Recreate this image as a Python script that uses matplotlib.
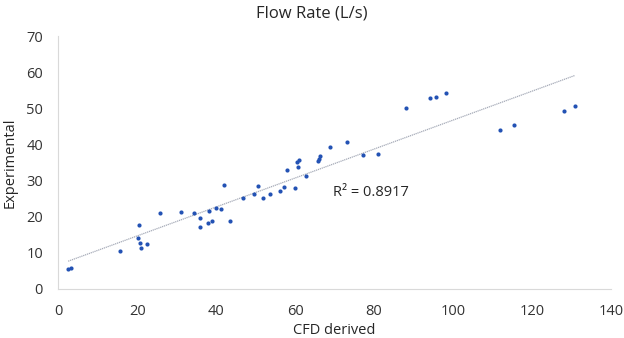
import numpy as np
import matplotlib
matplotlib.use("Agg")
import matplotlib.pyplot as plt

plt.rcParams['font.family'] = ['Open Sans', 'DejaVu Sans']

# CFD derived flow rate (L/s)
cfd = [2.5, 3.2, 15.6, 20.4, 20.3, 20.7, 20.9, 22.6, 25.7, 31.2,
       34.5, 35.8, 36.0, 38.2, 38.0, 38.9, 40.0, 41.1, 41.9, 43.6,
       46.8, 49.7, 50.5, 51.8, 53.6, 56.2, 57.3, 57.9, 60.0, 60.6,
       60.5, 61.0, 62.8, 65.9, 66.1, 66.4, 68.9, 73.2, 77.3, 81.0,
       88.0, 94.1, 95.7, 98.3, 112.0, 115.4, 128.2, 130.9]
# experimental flow rate (L/s)
exp = [5.5, 5.7, 10.5, 17.7, 14.1, 12.8, 11.4, 12.4, 21.0, 21.2,
       21.0, 19.8, 17.3, 21.7, 18.4, 18.9, 22.5, 22.3, 28.7, 18.8,
       25.2, 26.2, 28.4, 25.3, 26.3, 27.1, 28.2, 33.1, 28.0, 33.7,
       35.1, 35.6, 31.2, 35.4, 35.9, 36.9, 39.3, 40.8, 37.1, 37.5,
       50.2, 52.9, 53.2, 54.3, 44.1, 45.5, 49.4, 50.7]
r2_label = "R² = 0.8917"

x = np.array(cfd)
y = np.array(exp)
slope, inter = np.polyfit(x, y, 1)

fig = plt.figure(figsize=(6.24, 3.38), dpi=100)
ax = fig.add_axes([0.0934, 0.145, 0.8857, 0.7475])

xs = np.array([x.min(), x.max()])
ax.plot(xs, slope * xs + inter, color='#a6abb8', lw=0.9, ls=(0, (1, 0.6)), zorder=1)
ax.plot(x, y, 'o', color='#2352b4', ms=3, mew=0, zorder=2)

ax.text(69.7, 26.7, r2_label, fontsize=10.5, color='#262626', va='center', ha='left')

ax.set_xlim(0, 140)
ax.set_ylim(0, 70)
ax.set_xticks(range(0, 141, 20))
ax.set_yticks(range(0, 71, 10))
ax.tick_params(length=0, labelsize=10.5, colors='#333333')
ax.tick_params(axis='y', pad=11)
ax.tick_params(axis='x', pad=11)

for s in ['top', 'right']:
    ax.spines[s].set_visible(False)
for s in ['left', 'bottom']:
    ax.spines[s].set_color('#d9d9d9')
    ax.spines[s].set_linewidth(0.8)

fig.text(0.5, 1 - 13 / 338, 'Flow Rate (L/s)', fontsize=12, color='#262626',
         ha='center', va='center')
ax.set_xlabel('CFD derived', fontsize=10.5, color='#262626', labelpad=3)
ax.set_ylabel('Experimental', fontsize=10.5, color='#262626', labelpad=6)

fig.savefig('out.png', dpi=100)
